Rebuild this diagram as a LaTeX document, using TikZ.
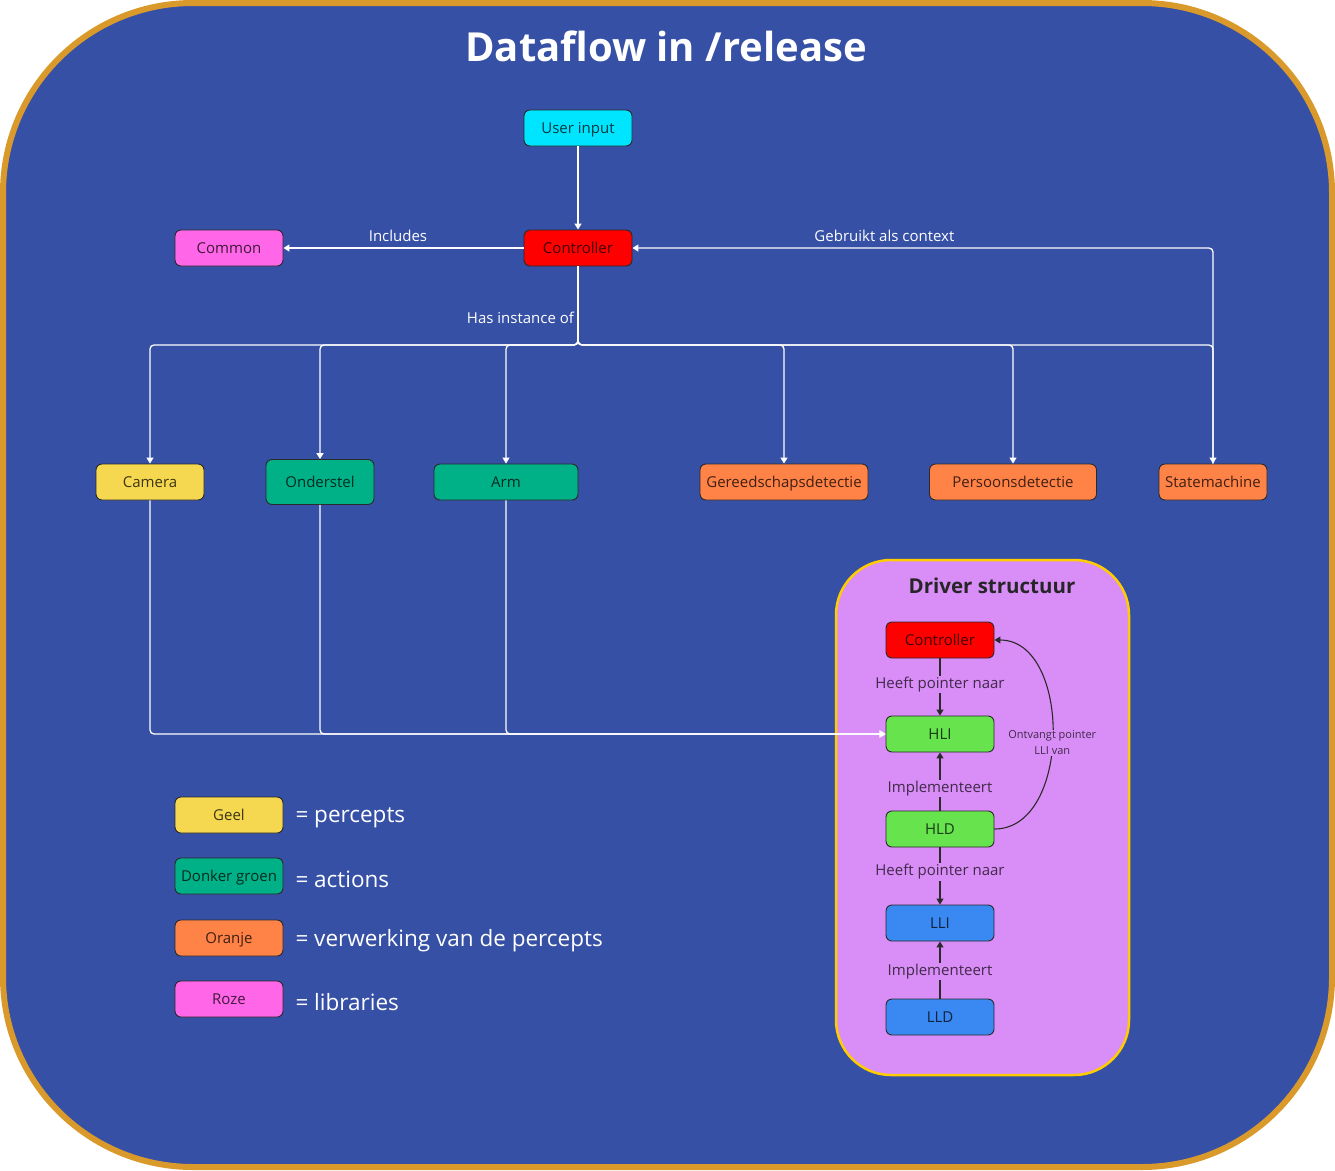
\documentclass[tikz,border=0pt]{standalone}
\usepackage{fontspec}
\setmainfont{Open Sans}
\usetikzlibrary{arrows.meta,positioning}
\definecolor{bgblue}{HTML}{3650A6}
\definecolor{frameor}{HTML}{D99A2B}
\definecolor{ccyan}{HTML}{00E5FF}
\definecolor{cred}{HTML}{FF0000}
\definecolor{cpink}{HTML}{FF66E8}
\definecolor{cyellow}{HTML}{F5D750}
\definecolor{cgreen}{HTML}{00B086}
\definecolor{corange}{HTML}{FF8247}
\definecolor{drvfill}{HTML}{D98DF7}
\definecolor{drvborder}{HTML}{FFCC00}
\definecolor{clgreen}{HTML}{66E34D}
\definecolor{cblue}{HTML}{3A88F2}
\definecolor{edgedark}{HTML}{2A2A2A}
\tikzset{
  box/.style={draw=edgedark, line width=0.9pt, rounded corners=6pt,
    minimum width=108pt, minimum height=36pt, inner sep=2pt,
    text height=12.5pt, text depth=2pt,
    font=\fontsize{15}{17}\selectfont, anchor=center},
  fillbox/.style={box, fill=#1, text=black!75!#1},
  wire/.style={draw=white, line width=1.3pt, rounded corners=4pt,
    -{Triangle[width=7pt,length=6pt]}},
  dwire/.style={draw=edgedark, line width=1.3pt,
    -{Triangle[width=7pt,length=6pt]}},
  wlabel/.style={text=white, font=\fontsize{15}{17}\selectfont},
  dlabel/.style={text=black!70!drvfill, fill=drvfill, inner sep=1pt,
    font=\fontsize{15}{17}\selectfont},
  legtext/.style={text=white, anchor=west, yshift=-3pt, font=\fontsize{22.5}{26}\selectfont},
}
\begin{document}
\begin{tikzpicture}[x=1pt,y=-1pt]
\useasboundingbox (0,0) rectangle (1335,1170);
% outer frame
\draw[fill=bgblue, draw=frameor, line width=6pt, rounded corners=190pt]
  (3,3) rectangle (1332,1167);
% title
\node[text=white, font=\fontsize{40}{46}\selectfont\bfseries] (title) at (666,46) {Dataflow in /release};

% main nodes
\node[fillbox=ccyan] (user) at (578,128) {User input};
\node[fillbox=cred] (ctrl) at (578,248) {Controller};
\node[fillbox=cpink] (common) at (229,248) {Common};
\node[fillbox=cyellow] (cam) at (150,482) {Camera};
\node[fillbox=cgreen, minimum height=45pt] (ond) at (320,482) {Onderstel};
\node[fillbox=cgreen, minimum width=144pt] (arm) at (506,482) {Arm};
\node[fillbox=corange, minimum width=168pt] (ger) at (784,482) {Gereedschapsdetectie};
\node[fillbox=corange, minimum width=167pt] (pers) at (1013,482) {Persoonsdetectie};
\node[fillbox=corange] (sm) at (1213,482) {Statemachine};

% driver structure
\draw[fill=drvfill, draw=drvborder, line width=2.5pt, rounded corners=55pt]
  (836,560) rectangle (1129,1075);
\node[text=black!85, font=\fontsize{20.5}{24}\selectfont\bfseries] (dtitle) at (992,586) {Driver structuur};
\node[fillbox=cred] (c2) at (940,640) {Controller};
\node[fillbox=clgreen] (hli) at (940,734) {HLI};
\node[fillbox=clgreen] (hld) at (940,829) {HLD};
\node[fillbox=cblue] (lli) at (940,923) {LLI};
\node[fillbox=cblue] (lld) at (940,1017) {LLD};

% top connectors
\draw[wire] (user.south) -- (ctrl.north);
\draw[wire] (ctrl.west) -- node[wlabel, pos=0.523, above=2pt] {Includes} (common.east);
\draw[wire] (sm.north) |- node[wlabel, pos=0.783, above=2pt] {Gebruikt als context} (ctrl.east);
\coordinate (bus) at (578,345);
\draw[wire] (ctrl.south) -- node[wlabel, pos=0.65, left=0pt] {Has instance of} (bus) -| (cam.north);
\draw[wire] (ctrl.south) -- (bus) -| (ond.north);
\draw[wire] (ctrl.south) -- (bus) -| (arm.north);
\draw[wire] (ctrl.south) -- (bus) -| (ger.north);
\draw[wire] (ctrl.south) -- (bus) -| (pers.north);
\draw[wire] (ctrl.south) -- (bus) -| (sm.north);

% bottom connectors to HLI
\draw[wire] (cam.south) |- (hli.west);
\draw[wire] (ond.south) |- (hli.west);
\draw[wire] (arm.south) |- (hli.west);

% driver connectors
\draw[dwire] (c2.south) -- node[dlabel, pos=0.45] {Heeft pointer naar} (hli.north);
\draw[dwire] (hld.north) -- node[dlabel, pos=0.38] {Implementeert} (hli.south);
\draw[dwire] (hld.south) -- node[dlabel, pos=0.43] {Heeft pointer naar} (lli.north);
\draw[dwire] (lld.north) -- node[dlabel, pos=0.48] {Implementeert} (lli.south);
\draw[dwire, line width=1.1pt] (hld.east) to[out=0, in=0, looseness=1.05]
  node[dlabel, pos=0.47, align=center, font=\fontsize{11}{16}\selectfont] {Ontvangt pointer\\LLI van} (c2.east);

% legend
\node[fillbox=cyellow] (lg1) at (229,815) {Geel};
\node[fillbox=cgreen] (lg2) at (229,876) {Donker groen};
\node[fillbox=corange] (lg3) at (229,938) {Oranje};
\node[fillbox=cpink] (lg4) at (229,999) {Roze};
\node[legtext] (lt1) at (292,815) {= percepts};
\node[legtext] (lt2) at (292,876) {= actions};
\node[legtext] (lt3) at (292,938) {= verwerking van de percepts};
\node[legtext] (lt4) at (292,999) {= libraries};
\end{tikzpicture}
\end{document}
